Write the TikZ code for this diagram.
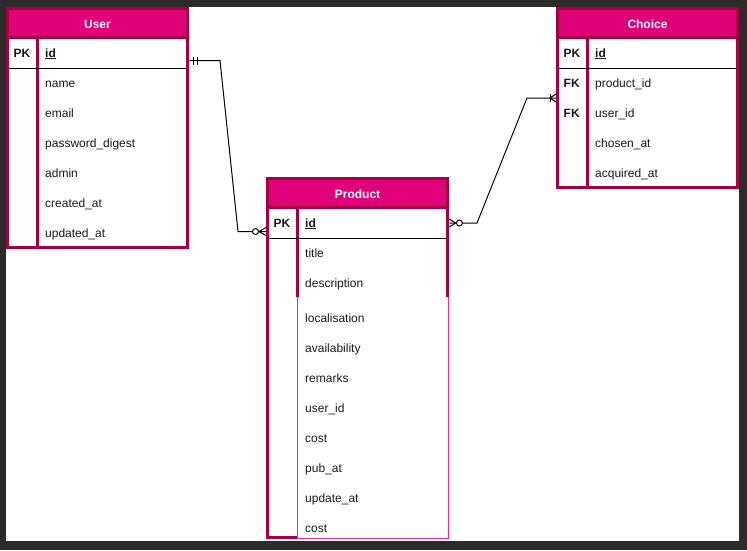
\documentclass[tikz,border=0pt]{standalone}
\usepackage{fontspec}
\setmainfont{Liberation Sans}
\definecolor{erpink}{HTML}{E0007A}
\definecolor{erframe}{HTML}{A50040}
\definecolor{backdrop}{HTML}{2B2B2B}

\begin{document}
\begin{tikzpicture}[x=1pt, y=-1pt,
            every node/.style={font=\fontsize{12pt}{14pt}\selectfont, text=black!90},
            attr/.style={anchor=west, minimum width=150pt, minimum height=30pt,
                         inner xsep=7.5pt, text width=135pt, align=left,
                         text height=9pt, text depth=1pt},
            pkfk/.style={anchor=west, inner xsep=6pt, text height=9.5pt, text depth=0pt,
                         font=\fontsize{12pt}{14pt}\selectfont\bfseries},
            tablehead/.style={fill=erpink, draw=erframe, line width=3pt, minimum width=180pt,
                              minimum height=29pt, text height=10pt, text depth=0pt, text=white,
                              font=\fontsize{12pt}{14pt}\selectfont\bfseries},
            frame/.style={draw=erframe, line width=3pt},
            link/.style={draw=black, line width=1pt},
            ]

            \useasboundingbox (0,0) rectangle (747,550);
            \fill[backdrop] (0,0) rectangle (747,550);
            \fill[white] (6,7) rectangle (739,541);

            % User
            \node[tablehead] (usr-head) at (97.5,23) {User};
            \draw[frame] (7.5,8.5) rectangle (187.5,247.5);
            \draw[frame] (37.5,37.5) -- (37.5,247.5);
            \draw[line width=1pt] (9,68) -- (186,68);
            \node[pkfk] (usr-pk) at (7.5,53) {PK};
            \node[attr] (usr-id) at (37.5,53) {\textbf{\underline{id}}};
            \node[attr] (usr-name) at (37.5,83) {name};
            \node[attr] (usr-email) at (37.5,113) {email};
            \node[attr] (usr-pwd) at (37.5,143) {password\_digest};
            \node[attr] (usr-admin) at (37.5,173) {admin};
            \node[attr] (usr-created) at (37.5,203) {created\_at};
            \node[attr] (usr-updated) at (37.5,233) {updated\_at};

            % Choice
            \node[tablehead] (chc-head) at (647.5,23) {Choice};
            \draw[frame] (557.5,8.5) rectangle (737.5,187.5);
            \draw[frame] (587.5,37.5) -- (587.5,187.5);
            \draw[line width=1pt] (559,68) -- (736,68);
            \node[pkfk] (chc-pk) at (557.5,53) {PK};
            \node[pkfk] (chc-fk1) at (557.5,83) {FK};
            \node[pkfk] (chc-fk2) at (557.5,113) {FK};
            \node[attr] (chc-id) at (587.5,53) {\textbf{\underline{id}}};
            \node[attr] (chc-pid) at (587.5,83) {product\_id};
            \node[attr] (chc-uid) at (587.5,113) {user\_id};
            \node[attr] (chc-chosen) at (587.5,143) {chosen\_at};
            \node[attr] (chc-acquired) at (587.5,173) {acquired\_at};

            % Product
            \node[tablehead] (prd-head) at (357.5,193) {Product};
            \draw[frame] (447.5,297) -- (447.5,178.5) -- (267.5,178.5) -- (267.5,537.5) -- (297.5,537.5);
            \draw[frame] (297.5,207.5) -- (297.5,297);
            \draw[erpink!80, line width=1pt] (297,297) -- (297,538.5) -- (448.5,538.5) -- (448.5,297);
            \draw[line width=1pt] (269,238) -- (446,238);
            \node[pkfk] (prd-pk) at (267.5,223) {PK};
            \node[attr] (prd-id) at (297.5,223) {\textbf{\underline{id}}};
            \node[attr] (prd-title) at (297.5,253) {title};
            \node[attr] (prd-desc) at (297.5,283) {description};
            \node[attr] (prd-loc) at (297.5,318) {localisation};
            \node[attr] (prd-avail) at (297.5,348) {availability};
            \node[attr] (prd-remarks) at (297.5,378) {remarks};
            \node[attr] (prd-uid) at (297.5,408) {user\_id};
            \node[attr] (prd-cost) at (297.5,438) {cost};
            \node[attr] (prd-pub) at (297.5,468) {pub\_at};
            \node[attr] (prd-upd) at (297.5,498) {update\_at};
            \node[attr] (prd-cost2) at (297.5,528) {cost};

            % User -- Product
            \coordinate (e1) at ([xshift=1.5pt,yshift=-7.5pt]usr-id.east);
            \coordinate (b1) at (220,60.5);
            \coordinate (b2) at (238,231.5);
            \coordinate (e2) at ([xshift=-1.5pt,yshift=-8.5pt]prd-pk.west);
            \draw[link] (e1) -- (b1) -- (b2) -- (e2);
            \draw[link] (e1) ++(4,-4) -- ++(0,8);
            \draw[link] (e1) ++(8,-4) -- ++(0,8);
            \draw[link] (e2) ++(0,-4) -- ++(-7,4) -- ++(7,4);
            \draw[link, fill=white] (e2) ++(-10.5,0) circle (3pt);

            % Product -- Choice
            \coordinate (e3) at ([xshift=1.5pt]prd-id.east);
            \coordinate (b3) at (477,223);
            \coordinate (b4) at (527,98);
            \coordinate (e4) at ([xshift=-1.5pt,yshift=-15pt]chc-fk1.west);
            \draw[link] (e3) -- (b3) -- (b4) -- (e4);
            \draw[link] (e3) ++(0,-4) -- ++(6,4) -- ++(-6,4);
            \draw[link, fill=white] (e3) ++(10,0) circle (3pt);
            \draw[link] (e4) ++(0,-4) -- ++(-6,4) -- ++(6,4);
            \draw[link] (e4) ++(-6,-4) -- ++(0,8);
        \end{tikzpicture}
\end{document}
